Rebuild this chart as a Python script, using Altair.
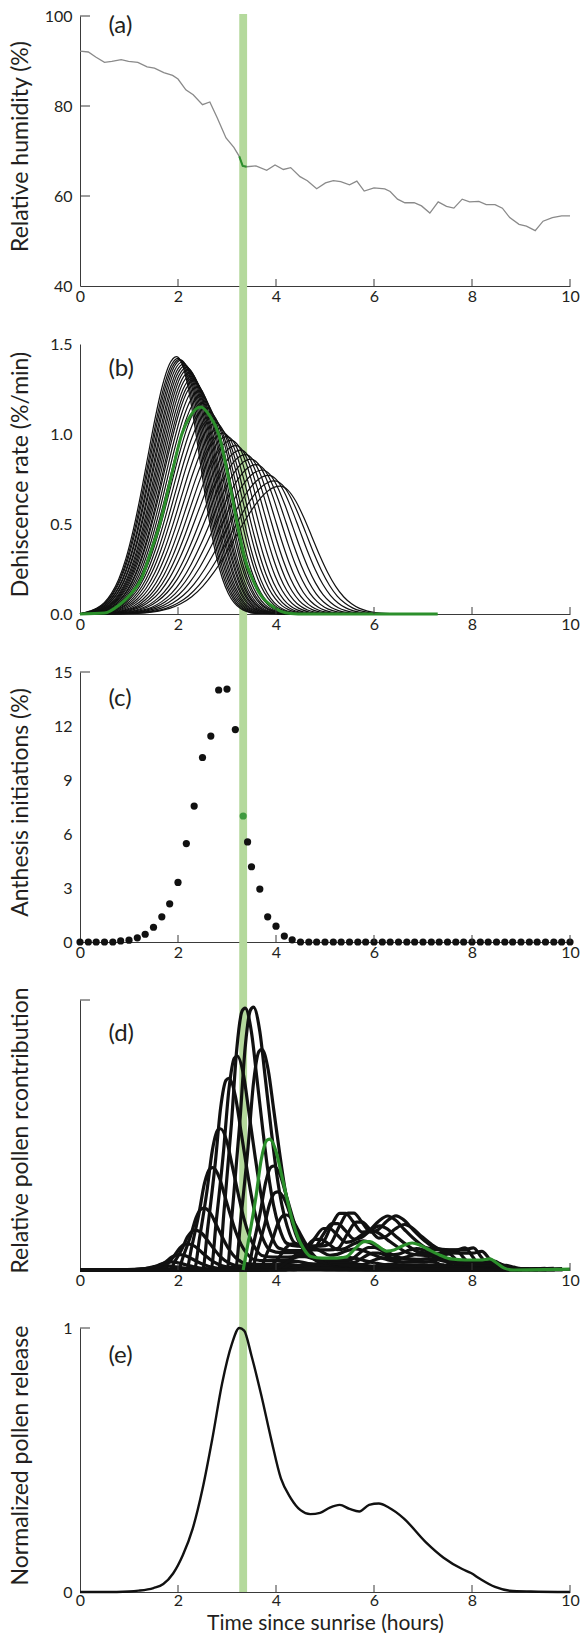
import altair as alt
import pandas as pd

# ---------------- values ----------------
HOURS_TICKS = [0, 2, 4, 6, 8, 10]
BAND_HOURS = [3.25, 3.41]

# (a) relative humidity
RH_T = [0, 0.17, 0.32, 0.5, 0.65, 0.84, 0.99, 1.18, 1.37, 1.52, 1.71, 1.89, 2.0, 2.16, 2.31,
        2.5, 2.65, 2.8, 2.98, 3.14, 3.25, 3.32, 3.4, 3.59, 3.81, 3.98, 4.15, 4.3, 4.49, 4.64,
        4.83, 5.01, 5.17, 5.32, 5.5, 5.65, 5.8, 6.0, 6.22, 6.33, 6.48, 6.63, 6.82, 6.97, 7.14,
        7.31, 7.48, 7.63, 7.8, 7.95, 8.14, 8.29, 8.47, 8.62, 8.77, 8.96, 9.11, 9.29, 9.45, 9.64,
        9.83, 10.0]
RH_V = [92.2, 92.0, 90.9, 89.7, 89.9, 90.3, 89.9, 89.7, 88.7, 88.4, 87.4, 86.8, 86.0, 83.6, 82.5,
        80.3, 80.9, 77.4, 72.9, 70.8, 68.8, 66.7, 66.5, 66.7, 65.7, 66.9, 65.9, 66.3, 64.3, 63.4,
        61.6, 62.9, 63.4, 63.2, 62.5, 63.3, 61.1, 61.8, 61.6, 61.0, 59.3, 58.5, 58.5, 57.8, 56.2,
        58.7, 57.7, 57.3, 59.3, 58.7, 58.8, 58.1, 58.1, 57.3, 55.2, 53.7, 53.3, 52.3, 54.4, 55.2,
        55.6, 55.6]

# (b) highlighted dehiscence curve
DEH_GREEN_T = [0, 0.5, 0.8, 1.0, 1.26, 1.45, 1.63, 1.85, 2.08, 2.25, 2.46, 2.65, 2.83, 3.02,
               3.21, 3.35, 3.51, 3.7, 3.89, 4.1, 4.3, 4.6, 7.3]
DEH_GREEN_V = [0, 0.005, 0.05, 0.1, 0.2, 0.35, 0.5, 0.75, 1.0, 1.1, 1.15, 1.1, 1.0, 0.77,
               0.5, 0.32, 0.2, 0.1, 0.05, 0.015, 0.003, 0, 0]
# (b) black curves: peak time, peak height, rising / falling width (hours)
DEH_PEAK_T = [1.97, 2.00, 2.03, 2.06, 2.09, 2.12, 2.15, 2.18, 2.21, 2.24, 2.27, 2.30, 2.33, 2.36,
              2.40, 2.44, 2.48, 2.53, 2.58, 2.64, 2.70, 2.77, 2.84, 2.92, 3.00, 3.09, 3.18, 3.28,
              3.38, 3.49, 3.60, 3.72, 3.85, 3.97, 4.08]
DEH_PEAK_V = [1.43, 1.42, 1.415, 1.41, 1.40, 1.39, 1.38, 1.37, 1.36, 1.345, 1.33, 1.31, 1.295, 1.28,
              1.26, 1.235, 1.21, 1.18, 1.15, 1.12, 1.09, 1.06, 1.03, 1.005, 0.985, 0.965, 0.935, 0.91,
              0.885, 0.86, 0.83, 0.80, 0.77, 0.74, 0.71]
DEH_RISE = [0.59, 0.594, 0.60, 0.60, 0.61, 0.61, 0.62, 0.62, 0.625, 0.63, 0.635, 0.64, 0.64, 0.65,
            0.655, 0.66, 0.665, 0.67, 0.68, 0.69, 0.70, 0.71, 0.72, 0.73, 0.74, 0.755, 0.77, 0.78,
            0.80, 0.81, 0.83, 0.85, 0.87, 0.88, 0.90]
DEH_FALL = [0.47, 0.473, 0.475, 0.478, 0.48, 0.483, 0.485, 0.49, 0.49, 0.495, 0.495, 0.50, 0.50, 0.505,
            0.51, 0.51, 0.515, 0.52, 0.52, 0.53, 0.53, 0.54, 0.545, 0.55, 0.56, 0.565, 0.575, 0.58,
            0.59, 0.60, 0.61, 0.62, 0.63, 0.64, 0.65]
PROFILE_U = [0, 0.25, 0.5, 0.75, 1.0, 1.25, 1.5, 1.75, 2.0, 2.25, 2.5, 2.75, 3.0, 3.5]
PROFILE_V = [1, 0.969, 0.882, 0.755, 0.607, 0.458, 0.325, 0.216, 0.135, 0.080, 0.044, 0.023, 0.011, 0.002]
DEH_END = 6.6

# (c) anthesis initiations (%)
C_T = [0, 0.17, 0.33, 0.5, 0.67, 0.83, 1.0, 1.17, 1.33, 1.5, 1.67, 1.83, 2.0, 2.17, 2.33, 2.5,
       2.67, 2.83, 3.0, 3.17, 3.42, 3.5, 3.67, 3.83, 4.0, 4.17, 4.33, 4.5, 4.67, 4.83, 5.0, 5.17,
       5.33, 5.5, 5.67, 5.83, 6.0, 6.17, 6.33, 6.5, 6.67, 6.83, 7.0, 7.17, 7.33, 7.5, 7.67, 7.83,
       8.0, 8.17, 8.33, 8.5, 8.67, 8.83, 9.0, 9.17, 9.33, 9.5, 9.67, 9.83, 10.0]
C_V = [0, 0, 0, 0, 0, 0.06, 0.1, 0.23, 0.43, 0.82, 1.4, 2.12, 3.31, 5.47, 7.55, 10.25,
       11.44, 14.0, 14.05, 11.8, 5.56, 4.18, 2.94, 1.40, 0.88, 0.33, 0.12, 0, 0, 0, 0, 0,
       0, 0, 0, 0, 0, 0, 0, 0, 0, 0, 0, 0, 0, 0, 0, 0,
       0, 0, 0, 0, 0, 0, 0, 0, 0, 0, 0, 0, 0]
C_GREEN_T = [3.33]
C_GREEN_V = [7.0]

# (d) highlighted cohort's pollen contribution (relative)
POL_GREEN_T = [3.33, 3.44, 3.59, 3.70, 3.81, 3.87, 4.00, 4.11, 4.23, 4.34, 4.45, 4.56, 4.71, 4.94,
               5.24, 5.43, 5.62, 5.80, 5.92, 6.07, 6.26, 6.41, 6.59, 6.78, 6.93, 7.12, 7.35, 7.57,
               7.87, 8.17, 8.36, 8.51, 8.66, 8.85, 10.0]
POL_GREEN_V = [0, 0.11, 0.27, 0.41, 0.48, 0.485, 0.44, 0.355, 0.26, 0.18, 0.12, 0.08, 0.05, 0.044,
               0.044, 0.048, 0.08, 0.105, 0.105, 0.09, 0.07, 0.074, 0.09, 0.10, 0.093, 0.075, 0.055, 0.041,
               0.037, 0.037, 0.041, 0.025, 0.007, 0.0, 0.003]

# (e) normalized pollen release
E_T = [0, 0.5, 1.0, 1.2, 1.5, 1.7, 1.9, 2.1, 2.3, 2.5, 2.7, 2.9, 3.1, 3.25, 3.35, 3.5, 3.7, 3.9,
       4.1, 4.3, 4.5, 4.7, 4.9, 5.1, 5.3, 5.5, 5.7, 5.9, 6.1, 6.3, 6.6, 7.05, 7.42, 7.8, 7.98, 8.17,
       8.47, 8.77, 9.2, 10]
E_V = [0, 0, 0.002, 0.005, 0.015, 0.03, 0.07, 0.14, 0.24, 0.39, 0.58, 0.79, 0.94, 1.0, 0.99, 0.895,
       0.745, 0.58, 0.43, 0.356, 0.31, 0.295, 0.3, 0.32, 0.33, 0.315, 0.305, 0.33, 0.335, 0.32, 0.28,
       0.19, 0.13, 0.087, 0.072, 0.049, 0.019, 0.005, 0.002, 0]

PANEL_LABELS = ["(a)", "(b)", "(c)", "(d)", "(e)"]
LABEL_T = 0.58
LABEL_V = [97.8, 1.36, 13.5, 0.875, 0.893]
Y_TITLES = ["Relative humidity (%)", "Dehiscence rate (%/min)", "Anthesis initiations (%)",
            "Relative pollen rcontribution", "Normalized pollen release"]
X_TITLE = "Time since sunrise (hours)"

# ---------------- style ----------------
W, H, GAP = 490, 270, 58
H_LAST = 264
FONT = "Lato"
INK = "#231f20"
AXC = "#3a3a3a"
GREEN = "#2b8f2b"
GREEN_DOT = "#3f9a3f"
BAND_COLOR = "#b4d99c"

# ---------------- tables ----------------
rh_df = pd.DataFrame({"t": RH_T, "v": RH_V})

rows = []
for i, (pt, ph, sl, sr) in enumerate(zip(DEH_PEAK_T, DEH_PEAK_V, DEH_RISE, DEH_FALL)):
    pts = {0.0: 0.0, DEH_END: 0.0}
    for u, pv in zip(PROFILE_U, PROFILE_V):
        pts[round(pt - u * sl, 4)] = ph * pv
        pts[round(pt + u * sr, 4)] = ph * pv
    for t, v in pts.items():
        if 0 <= t <= 10:
            rows.append({"t": t, "v": v, "c": i})
deh_df = pd.DataFrame(rows)
deh_green_df = pd.DataFrame({"t": DEH_GREEN_T, "v": DEH_GREEN_V})

c_df = pd.DataFrame({"t": C_T, "v": C_V})
c_green_df = pd.DataFrame({"t": C_GREEN_T, "v": C_GREEN_V})

rows = []
g0 = C_GREEN_T[0]
for i, (ct, cv) in enumerate(zip(C_T, C_V)):
    if cv <= 0:
        continue
    rows.append({"t": 0.0, "v": 0.0, "c": i})
    for gt, gv in zip(POL_GREEN_T, POL_GREEN_V):
        t = ct + (gt - g0)
        if t <= 10:
            rows.append({"t": t, "v": gv * cv / C_GREEN_V[0], "c": i})
pol_df = pd.DataFrame(rows)
pol_green_df = pd.DataFrame({"t": POL_GREEN_T, "v": POL_GREEN_V})

e_df = pd.DataFrame({"t": E_T, "v": E_V})

# ---------------- encodings ----------------
def X(title=None):
    kw = dict(values=HOURS_TICKS, labelFlush=False, labelPadding=2, title=title)
    if title:
        kw.update(labelPadding=0, titleY=41, titleBaseline="bottom", titleFontSize=21)
    return alt.X("t:Q", scale=alt.Scale(domain=[0, 10], nice=False, zero=False), axis=alt.Axis(**kw))


def Y(domain, title, values=None, fmt=None, labels=True, h=H):
    kw = dict(title=title, titleX=-60, titleY=round(h * 0.48), titleAngle=270, titleAlign="center",
              titleBaseline="middle", labelPadding=8, labels=labels)
    if values is not None:
        kw["values"] = values
    if fmt is not None:
        kw["format"] = fmt
    return alt.Y("v:Q", scale=alt.Scale(domain=domain, nice=False, zero=False), axis=alt.Axis(**kw))


def common_layers(k, xenc, yenc, ytick_vals, top=0, last=False):
    h = H_LAST if last else H
    band = alt.Chart(pd.DataFrame({"t": [BAND_HOURS[0]], "t2": [BAND_HOURS[1]]})).mark_rect(
        color=BAND_COLOR).encode(x=xenc, x2="t2", y=alt.value(top), y2=alt.value(h if last else h + GAP))
    xt = alt.Chart(pd.DataFrame({"t": HOURS_TICKS[1:]})).mark_rule(color=AXC, strokeWidth=1).encode(
        x=xenc, y=alt.value(h), y2=alt.value(h - 7))
    layers_after = [xt]
    if ytick_vals:
        yt = alt.Chart(pd.DataFrame({"v": ytick_vals})).mark_rule(color=AXC, strokeWidth=1).encode(
            y=yenc, x=alt.value(0), x2=alt.value(10))
        layers_after.append(yt)
    lab = alt.Chart(pd.DataFrame({"t": [LABEL_T], "v": [LABEL_V[k]], "label": [PANEL_LABELS[k]]})).mark_text(
        align="left", baseline="middle", font=FONT, fontSize=24, color=INK).encode(
        x=xenc, y=yenc, text="label:N")
    layers_after.append(lab)
    return band, layers_after


# (a)
xa, ya = X(), Y([40, 100], Y_TITLES[0], values=[40, 60, 80, 100])
band, after = common_layers(0, xa, ya, [60, 80, 100], top=-2)
pa = alt.layer(
    band,
    alt.Chart(rh_df).mark_line(color="#8a8a8a", strokeWidth=1.3).encode(x=xa, y=ya),
    alt.Chart(rh_df).transform_filter("datum.t >= 3.25 && datum.t <= 3.42").mark_line(
        color=GREEN, strokeWidth=2).encode(x=xa, y=ya),
    *after,
).properties(width=W, height=H)

# (b)
xb, yb = X(), Y([0, 1.5], Y_TITLES[1], values=[0, 0.5, 1.0, 1.5], fmt=".1f")
band, after = common_layers(1, xb, yb, [])
pb = alt.layer(
    band,
    alt.Chart(deh_df).mark_line(color="#111111", strokeWidth=1.2, interpolate="monotone").encode(
        x=xb, y=yb, detail="c:N"),
    alt.Chart(deh_green_df).mark_line(color=GREEN, strokeWidth=3, interpolate="monotone").encode(x=xb, y=yb),
    *after,
).properties(width=W, height=H)

# (c)
xc, yc = X(), Y([0, 15], Y_TITLES[2], values=[0, 3, 6, 9, 12, 15])
band, after = common_layers(2, xc, yc, [15])
pc = alt.layer(
    band,
    alt.Chart(c_df).mark_circle(color="#111111", size=52, opacity=1).encode(x=xc, y=yc),
    alt.Chart(c_green_df).mark_circle(color=GREEN_DOT, size=52, opacity=1).encode(x=xc, y=yc),
    *after,
).properties(width=W, height=H)

# (d)
xd, yd = X(), Y([0, 1], Y_TITLES[3], labels=False)
band, after = common_layers(3, xd, yd, [1])
pdn = alt.layer(
    band,
    alt.Chart(pol_df).mark_line(color="#111111", strokeWidth=3.2, interpolate="monotone").encode(
        x=xd, y=yd, detail="c:N"),
    alt.Chart(pol_green_df).mark_line(color=GREEN, strokeWidth=3.2, interpolate="monotone").encode(x=xd, y=yd),
    *after,
).properties(width=W, height=H)

# (e)
xe, ye = X(X_TITLE), Y([0, 1], Y_TITLES[4], values=[0, 1], fmt="d", h=H_LAST)
band, after = common_layers(4, xe, ye, [1], last=True)
pe = alt.layer(
    band,
    alt.Chart(e_df).mark_line(color="#111111", strokeWidth=2.4, interpolate="monotone").encode(x=xe, y=ye),
    *after,
).properties(width=W, height=H_LAST)

chart = alt.vconcat(pa, pb, pc, pdn, pe, spacing=GAP, bounds="flush").properties(
    padding={"left": 8, "top": 8, "right": 0, "bottom": 0}
).configure_view(stroke=None).configure_axis(
    labelFont=FONT, labelFontSize=16, labelColor=INK, titleFont=FONT, titleFontSize=23,
    titleFontWeight="normal", titleColor=INK, domainColor=AXC, domainWidth=1, ticks=False, grid=False
)

chart.save("out.html", embed_options={"renderer": "svg", "actions": False})
